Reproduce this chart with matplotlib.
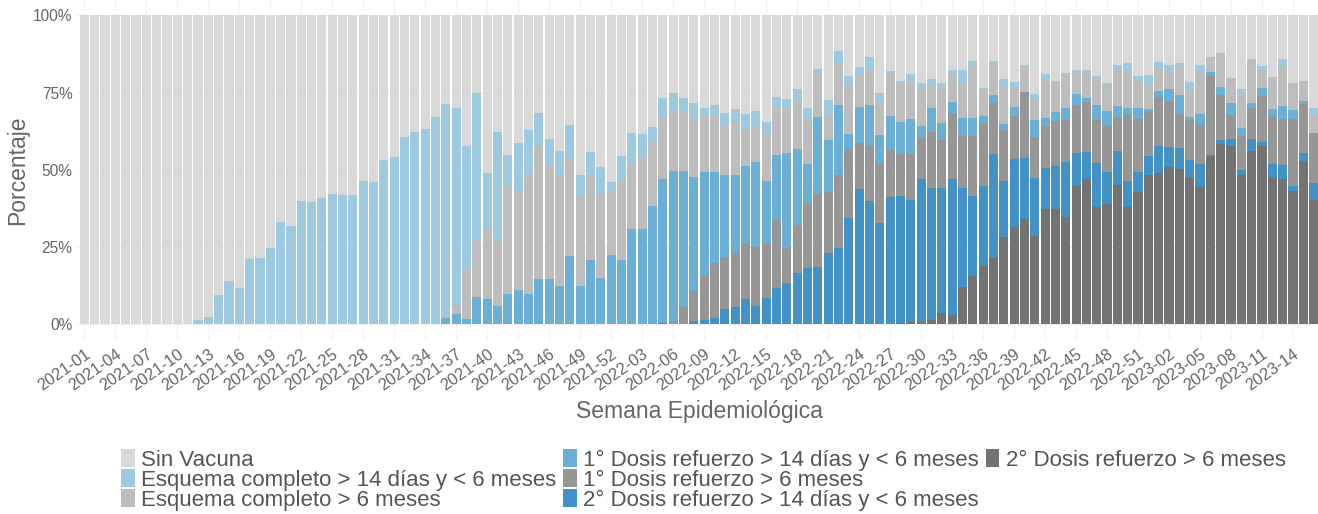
import numpy as np
import matplotlib
matplotlib.use("Agg")
import matplotlib.pyplot as plt
from matplotlib.patches import Rectangle

plt.rcParams['font.family'] = ['Liberation Sans', 'DejaVu Sans']

# semanas epidemiologicas 2021-01 .. 2023-16
semanas = ([f"2021-{w:02d}" for w in range(1, 53)] +
           [f"2022-{w:02d}" for w in range(1, 53)] +
           [f"2023-{w:02d}" for w in range(1, 17)])

# porcentajes por categoria (lectura del grafico)
sin_vacuna = [100, 100, 100, 100, 100, 100, 100, 100, 100, 100,
              100, 98.6, 97.5, 90.5, 86.0, 88.3, 79.0, 78.4, 75.2, 67.0,
              68.2, 60.1, 60.5, 59.2, 57.7, 58.0, 58.0, 53.5, 53.9, 46.9,
              45.8, 39.4, 37.8, 36.6, 32.9, 28.6, 29.9, 42.2, 25.1, 51.1,
              37.8, 45.2, 41.3, 37.1, 31.6, 40.0, 43.9, 35.5, 51.6, 44.2,
              49.1, 53.9, 45.5, 38.1, 38.3, 36.1, 26.8, 25.2, 26.8, 28.5,
              29.8, 29.1, 31.6, 30.4, 31.8, 30.9, 34.5, 26.4, 27.1, 23.8,
              29.8, 17.4, 27.4, 11.5, 19.7, 16.6, 13.5, 25.2, 18.0, 21.1,
              18.9, 21.9, 20.5, 21.8, 17.7, 17.8, 14.8, 23.5, 14.6, 20.7,
              21.4, 15.9, 25.5, 19.0, 21.3, 18.7, 17.5, 17.5, 19.5, 21.9,
              16.2, 15.4, 19.6, 19.4, 15.2, 16.1, 15.5, 21.7, 16.2, 13.5,
              12.3, 20.2, 23.8, 14.2, 16.3, 20.0, 14.2, 21.9, 21.1, 29.9]

esq_14d = [0, 0, 0, 0, 0, 0, 0, 0, 0, 0,
           0, 1.4, 2.5, 9.5, 14.0, 11.7, 21.0, 21.6, 24.8, 33.0,
           31.8, 39.9, 39.5, 40.8, 42.3, 42.0, 42.0, 46.5, 46.1, 53.1,
           54.2, 60.6, 62.2, 63.4, 67.1, 68.6, 64.2, 40.3, 47.6, 18.4,
           35.2, 9.9, 15.6, 14.0, 10.6, 8.8, 8.0, 11.1, 6.8, 7.4,
           8.6, 3.2, 8.3, 9.9, 7.9, 4.5, 6.1, 6.0, 4.2, 5.0,
           2.6, 3.3, 3.8, 4.4, 4.9, 5.2, 3.5, 3.5, 3.0, 4.2,
           4.2, 1.5, 5.2, 4.1, 2.8, 2.8, 4.3, 3.4, 0.9, 1.0,
           2.7, 2.0, 2.2, 1.6, 1.1, 4.3, 1.6, 0.7, 0.8, 2.4,
           1.7, 1.0, 1.7, 1.7, 0.8, 0.7, 0.6, 0.2, 0.6, 0.6,
           1.5, 2.8, 1.3, 3.1, 1.6, 2.1, 0.8, 3.0, 2.1, 0.1,
           0, 0, 1.4, 0, 1.2, 0, 2.1, 0, 0, 2.6]

esq_6m = [0, 0, 0, 0, 0, 0, 0, 0, 0, 0,
          0, 0, 0, 0, 0, 0, 0, 0, 0, 0,
          0, 0, 0, 0, 0, 0, 0, 0, 0, 0,
          0, 0, 0, 0, 0, 0.6, 2.6, 15.9, 18.3, 22.4,
          20.9, 35.0, 32.1, 39.1, 43.2, 36.5, 35.6, 31.4, 29.1, 27.5,
          27.3, 20.5, 25.3, 21.0, 22.9, 21.1, 20.1, 19.3, 19.4, 18.8,
          18.3, 18.3, 16.3, 16.9, 12.1, 11.4, 15.6, 15.2, 14.5, 15.3,
          14.0, 14.0, 7.7, 13.4, 15.9, 10.2, 11.2, 10.1, 13.7, 12.3,
          11.9, 11.8, 7.1, 11.4, 9.2, 11.0, 16.9, 8.3, 10.5, 11.9,
          6.5, 7.8, 6.7, 12.5, 9.2, 10.6, 7.3, 9.1, 9.0, 8.4,
          11.6, 11.7, 9.1, 7.8, 7.7, 5.7, 9.6, 8.2, 13.6, 4.7,
          11.0, 8.0, 11.2, 14.3, 6.1, 10.4, 12.9, 8.7, 6.5, 5.5]

ref1_14d = [0, 0, 0, 0, 0, 0, 0, 0, 0, 0,
            0, 0, 0, 0, 0, 0, 0, 0, 0, 0,
            0, 0, 0, 0, 0, 0, 0, 0, 0, 0,
            0, 0, 0, 0, 0, 2.2, 3.3, 1.6, 9.0, 8.1,
            6.1, 9.9, 11.0, 9.8, 14.6, 14.7, 12.5, 22.0, 12.5, 20.9,
            15.0, 22.4, 20.9, 31.0, 30.9, 38.3, 46.5, 48.4, 44.0, 36.8,
            33.3, 29.5, 26.5, 25.2, 25.2, 27.5, 20.4, 21.1, 30.8, 24.9,
            12.7, 25.0, 17.0, 22.7, 4.9, 11.7, 13.4, 9.0, 10.8, 10.4,
            11.5, 4.0, 7.8, 5.4, 3.7, 6.0, 5.8, 2.6, 2.4, 2.1,
            3.1, 0, 5.6, 2.7, 2.8, 3.9, 3.6, 1.1, 4.8, 4.8,
            3.7, 2.4, 3.5, 0.7, 2.0, 3.7, 6.0, 1.0, 3.5, 1.3,
            2.5, 4.1, 2.5, 1.3, 2.5, 2.2, 4.3, 2.9, 1.2, 0]

ref1_6m = [0, 0, 0, 0, 0, 0, 0, 0, 0, 0,
           0, 0, 0, 0, 0, 0, 0, 0, 0, 0,
           0, 0, 0, 0, 0, 0, 0, 0, 0, 0,
           0, 0, 0, 0, 0, 0, 0, 0, 0, 0,
           0, 0, 0, 0, 0, 0, 0, 0, 0, 0,
           0, 0, 0, 0, 0, 0, 0, 1.1, 5.6, 9.8,
           14.5, 17.6, 16.8, 17.5, 17.7, 18.9, 17.4, 21.9, 11.3, 15.3,
           21.1, 23.5, 19.5, 23.6, 22.3, 15.0, 17.7, 19.5, 15.4, 13.7,
           14.9, 13.3, 18.3, 15.7, 21.1, 16.6, 19.2, 20.0, 16.7, 16.5,
           13.8, 21.6, 13.0, 13.4, 14.7, 13.5, 15.6, 16.3, 14.0, 15.0,
           10.9, 21.3, 17.3, 14.5, 15.8, 15.0, 11.0, 12.9, 12.6, 25.6,
           14.5, 7.8, 11.2, 10.2, 14.8, 15.4, 14.9, 21.6, 15.8, 16.3]

ref2_14d = [0, 0, 0, 0, 0, 0, 0, 0, 0, 0,
            0, 0, 0, 0, 0, 0, 0, 0, 0, 0,
            0, 0, 0, 0, 0, 0, 0, 0, 0, 0,
            0, 0, 0, 0, 0, 0, 0, 0, 0, 0,
            0, 0, 0, 0, 0, 0, 0, 0, 0, 0,
            0, 0, 0, 0, 0, 0, 0.5, 0, 0, 1.1,
            1.5, 2.2, 5.0, 5.6, 8.3, 6.1, 8.6, 11.9, 13.3, 16.5,
            18.2, 18.6, 23.2, 24.7, 34.4, 43.7, 39.9, 32.8, 41.2, 41.2,
            39.2, 46.1, 42.6, 40.5, 44.3, 32.3, 26.1, 25.9, 33.4, 18.2,
            22.0, 19.6, 18.8, 13.4, 13.8, 17.8, 10.5, 8.6, 14.2, 10.2,
            11.0, 8.4, 6.4, 6.3, 8.6, 6.5, 6.8, 5.7, 7.6, 0.2,
            1.3, 2.1, 1.6, 3.9, 1.3, 4.3, 4.5, 1.6, 2.5, 5.5]

ref2_6m = [0, 0, 0, 0, 0, 0, 0, 0, 0, 0,
           0, 0, 0, 0, 0, 0, 0, 0, 0, 0,
           0, 0, 0, 0, 0, 0, 0, 0, 0, 0,
           0, 0, 0, 0, 0, 0, 0, 0, 0, 0,
           0, 0, 0, 0, 0, 0, 0, 0, 0, 0,
           0, 0, 0, 0, 0, 0, 0, 0, 0, 0,
           0, 0, 0, 0, 0, 0, 0, 0, 0, 0,
           0, 0, 0, 0, 0, 0, 0, 0, 0, 0.3,
           0.9, 0.9, 1.5, 3.6, 2.9, 12.0, 15.6, 19.0, 21.6, 28.2,
           31.5, 34.1, 28.7, 37.3, 37.4, 34.8, 44.9, 47.2, 37.9, 39.1,
           45.1, 38.0, 42.8, 48.2, 49.1, 50.9, 50.3, 47.5, 44.4, 54.6,
           58.4, 57.8, 48.3, 56.1, 57.8, 47.7, 47.1, 43.3, 52.9, 40.2]

categorias = ["Sin Vacuna",
              "Esquema completo > 14 días y < 6 meses",
              "Esquema completo > 6 meses",
              "1° Dosis refuerzo > 14 días y < 6 meses",
              "1° Dosis refuerzo > 6 meses",
              "2° Dosis refuerzo > 14 días y < 6 meses",
              "2° Dosis refuerzo > 6 meses"]
colores = ["#d9d9d9", "#9ecae1", "#bdbdbd", "#6baed6",
           "#969696", "#4292c6", "#737373"]
series = [sin_vacuna, esq_14d, esq_6m, ref1_14d, ref1_6m, ref2_14d, ref2_6m]

fig = plt.figure(figsize=(13.18, 5.14), dpi=100)
ax = fig.add_axes([0.0593, 0.3389, 0.9421, 0.6611])

x = np.arange(len(semanas))
# apilar desde abajo: 2° refuerzo > 6 meses primero
bottom = np.zeros(len(semanas))
handles = {}
for nombre, col, vals in reversed(list(zip(categorias, colores, series))):
    vals = np.array(vals, dtype=float)
    b = ax.bar(x, vals, bottom=bottom, width=0.88, color=col,
               linewidth=0, label=nombre, zorder=2)
    handles[nombre] = b
    bottom += vals

ax.set_xlim(-0.6, len(semanas) - 0.4)
ax.set_ylim(-5, 105)
ax.set_yticks([0, 25, 50, 75, 100])
ax.set_yticklabels(["0%", "25%", "50%", "75%", "100%"])
ax.set_xticks(x[::3])
ax.set_xticklabels(semanas[::3], rotation=35, ha='right', va='top',
                   rotation_mode='anchor')
ax.tick_params(axis='both', length=0, labelcolor='#666666')
ax.tick_params(axis='x', pad=5, labelsize=11.8)
ax.tick_params(axis='y', pad=4, labelsize=11.2)

for s in ax.spines.values():
    s.set_visible(False)
ax.grid(True, color='#dddddd', linestyle=':', linewidth=0.8, zorder=0)
ax.set_axisbelow(True)

ax.set_ylabel("Porcentaje", fontsize=16.5, color='#666666', labelpad=3)
ax.set_xlabel("Semana Epidemiológica", fontsize=16.5, color='#666666',
              labelpad=4)

# leyenda en 3 columnas (3, 3, 1): dos entradas vacias al final
blank = Rectangle((0, 0), 1, 1, visible=False)
leg_h = [handles[c] for c in categorias] + [blank, blank]
leg_l = categorias + ["", ""]
fig.legend(leg_h, leg_l, ncol=3,
           loc='upper left', bbox_to_anchor=(0.092, 0.127),
           frameon=False, fontsize=16, labelcolor='#555555',
           handlelength=0.6, handleheight=0.9, handletextpad=0.3,
           columnspacing=0.3, labelspacing=-0.08, borderpad=0,
           borderaxespad=0)

fig.savefig("out.png", dpi=100)
